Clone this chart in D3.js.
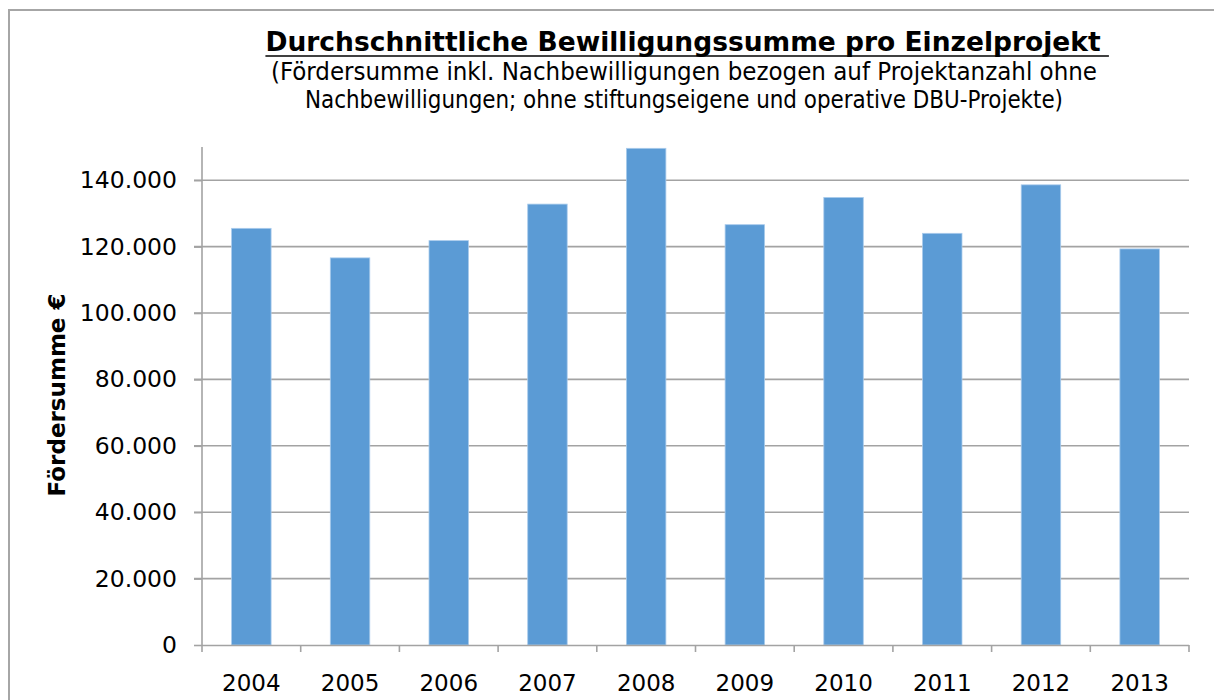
<!DOCTYPE html>
<html>
<head>
<meta charset="utf-8">
<script src="https://cdn.jsdelivr.net/npm/d3@7"></script>
<style>
  body { margin: 0; background: #fff; }
  svg { display: block; }
</style>
</head>
<body>
<svg id="chart" width="1214" height="700"></svg>
<script>
const years = ['2004', '2005', '2006', '2007', '2008', '2009', '2010', '2011', '2012', '2013'];
const amounts = [125500, 116600, 121800, 132800, 149600, 126600, 134800, 124000, 138600, 119300];
const yTicks = [0, 20000, 40000, 60000, 80000, 100000, 120000, 140000];

const titleText = 'Durchschnittliche Bewilligungssumme pro Einzelprojekt';
const subtitleLines = [
  '(Fördersumme inkl. Nachbewilligungen bezogen auf Projektanzahl ohne',
  'Nachbewilligungen; ohne stiftungseigene und operative DBU-Projekte)'
];
const subtitleWidths = [826, 758];
const yLabel = 'Fördersumme €';

const svg = d3.select('#chart');
const plot = { left: 202, right: 1189, top: 147, bottom: 645 };

// chart frame (only top and left edges visible)
svg.append('path')
  .attr('d', 'M9,700 V10 H1214')
  .attr('fill', 'none')
  .attr('stroke', '#a6a6a6')
  .attr('stroke-width', 2);

const x = d3.scaleBand()
  .domain(years)
  .range([plot.left, plot.right])
  .paddingInner(0.6)
  .paddingOuter(0.3);

const y = d3.scaleLinear()
  .domain([0, 150000])
  .range([plot.bottom, plot.top]);

const fmt = v => d3.format(',')(v).replace(/,/g, '.');

// gridlines
svg.append('g')
  .selectAll('line')
  .data(yTicks.filter(d => d > 0))
  .join('line')
  .attr('x1', plot.left - 8)
  .attr('x2', plot.right)
  .attr('y1', d => y(d))
  .attr('y2', d => y(d))
  .attr('stroke', '#a3a3a3')
  .attr('stroke-width', 1.6);

// bars
svg.append('g')
  .selectAll('rect')
  .data(years)
  .join('rect')
  .attr('x', d => x(d))
  .attr('width', x.bandwidth())
  .attr('y', (d, i) => y(amounts[i]))
  .attr('height', (d, i) => y(0) - y(amounts[i]))
  .attr('fill', '#5b9bd5')
  .attr('stroke', '#a9cbec')
  .attr('stroke-width', 0.8);

// y axis
const yAxis = svg.append('g')
  .attr('transform', `translate(${plot.left},0)`)
  .call(d3.axisLeft(y).tickValues(yTicks).tickSize(8).tickSizeOuter(0).tickPadding(17).tickFormat(fmt));
yAxis.select('.domain').remove();
yAxis.append('line')
  .attr('y1', plot.top).attr('y2', plot.bottom)
  .attr('stroke', '#a3a3a3').attr('stroke-width', 1.6);
yAxis.selectAll('.tick line').attr('stroke', '#a3a3a3').attr('stroke-width', 1.6);
yAxis.selectAll('.tick text')
  .attr('fill', '#000')
  .style('font-family', '"DejaVu Sans", Verdana, sans-serif')
  .style('font-size', '23.5px');

// x axis
const xAxis = svg.append('g')
  .attr('transform', `translate(0,${plot.bottom})`)
  .call(d3.axisBottom(x).tickSize(0).tickPadding(30));
xAxis.select('.domain')
  .attr('d', `M${plot.left},0.5H${plot.right}`)
  .attr('stroke', '#a3a3a3').attr('stroke-width', 1.6);
xAxis.selectAll('.tick text')
  .attr('fill', '#000')
  .style('font-family', '"DejaVu Sans", Verdana, sans-serif')
  .style('font-size', '23px');

// category separators
const step = x.step();
const bounds = d3.range(years.length + 1).map(i => plot.left + i * step);
xAxis.append('g')
  .selectAll('line')
  .data(bounds)
  .join('line')
  .attr('x1', d => d).attr('x2', d => d)
  .attr('y1', 0).attr('y2', 7)
  .attr('stroke', '#a3a3a3').attr('stroke-width', 1.6);

// y axis title
svg.append('text')
  .attr('transform', 'translate(65,395) rotate(-90)')
  .attr('text-anchor', 'middle')
  .style('font-family', '"DejaVu Sans", Verdana, sans-serif')
  .style('font-weight', 'bold')
  .style('font-size', '23px')
  .text(yLabel);

// title
const title = svg.append('text')
  .attr('x', 683)
  .attr('y', 51)
  .attr('text-anchor', 'middle')
  .style('font-family', '"DejaVu Sans", Verdana, sans-serif')
  .style('font-weight', 'bold')
  .style('font-size', '26.5px')
  .text(titleText);
const tb = title.node().getBBox();
svg.append('line')
  .attr('x1', tb.x).attr('x2', tb.x + tb.width + 8)
  .attr('y1', 56).attr('y2', 56)
  .attr('stroke', '#000').attr('stroke-width', 1.5);

// subtitle
svg.append('g')
  .selectAll('text')
  .data(subtitleLines)
  .join('text')
  .attr('x', 684)
  .attr('y', (d, i) => 80 + i * 28)
  .attr('text-anchor', 'middle')
  .attr('textLength', (d, i) => subtitleWidths[i])
  .attr('lengthAdjust', 'spacingAndGlyphs')
  .style('font-family', '"Liberation Sans Narrow", "DejaVu Sans Condensed", sans-serif')
  .style('font-size', '24px')
  .text(d => d);
</script>
</body>
</html>
